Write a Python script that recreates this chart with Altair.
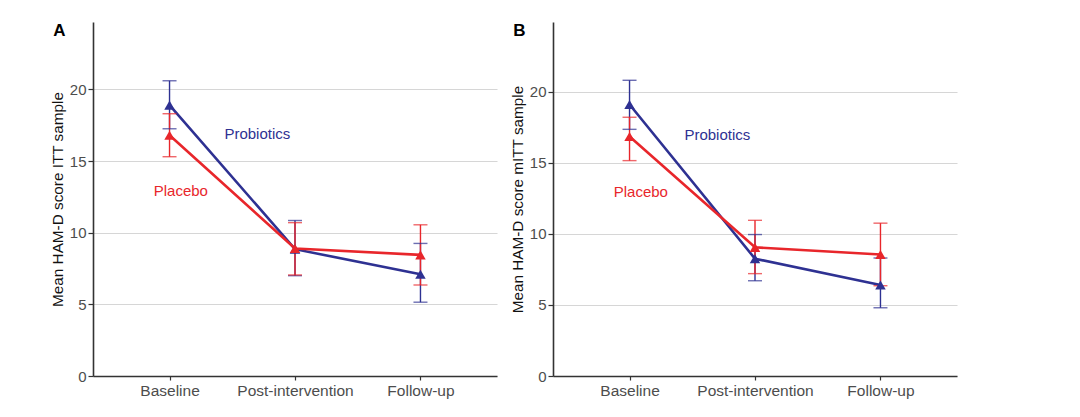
import altair as alt
import pandas as pd

categories = ["Baseline", "Post-intervention", "Follow-up"]
groups = ["Probiotics", "Placebo"]
colors = ["#2E3192", "#E8262B"]

# Panel A (ITT sample)
a_prob_mean = [18.9, 8.85, 7.1]
a_prob_upper = [20.6, 10.85, 9.25]
a_prob_lower = [17.25, 7.0, 5.15]
a_plac_mean = [16.8, 8.9, 8.45]
a_plac_upper = [18.3, 10.7, 10.55]
a_plac_lower = [15.3, 7.05, 6.35]

# Panel B (mITT sample)
b_prob_mean = [19.1, 8.25, 6.4]
b_prob_upper = [20.8, 9.95, 8.3]
b_prob_lower = [17.35, 6.7, 4.8]
b_plac_mean = [16.85, 9.05, 8.55]
b_plac_upper = [18.2, 10.95, 10.75]
b_plac_lower = [15.15, 7.2, 6.35]

# in-plot group labels (data coordinates)
label_x = [1.70, 1.09]
a_label_y = [16.9, 12.9]
b_label_y = [16.97, 12.95]

y_ticks = [0, 5, 10, 15, 20]
FONT = "Liberation Sans"


def make_df(prob, plac):
    rows = []
    for g, (m, hi, lo) in zip(groups, [prob, plac]):
        for i, c in enumerate(categories):
            rows.append({"x": i + 1, "cat": c, "group": g,
                         "mean": m[i], "hi": hi[i], "lo": lo[i]})
    return pd.DataFrame(rows)


label_expr = " : ".join(
    f"datum.value == {i + 1} ? '{c}'" for i, c in enumerate(categories[:-1])
) + f" : '{categories[-1]}'"


def panel(df, label_y, ymax, ytitle, letter):
    lab = pd.DataFrame({"group": groups, "x": label_x, "y": label_y})
    xs = alt.Scale(domain=[0.39, 3.61], nice=False, zero=False)
    ys = alt.Scale(domain=[0, ymax], nice=False, zero=True)
    col = alt.Color("group:N", scale=alt.Scale(domain=groups, range=colors), legend=None)
    xenc = alt.X("x:Q", scale=xs,
                 axis=alt.Axis(values=[1, 2, 3], labelExpr=label_expr, title=None,
                               grid=False, tickSize=4, labelPadding=3,
                               labelFontSize=15.5))
    yenc = alt.Y("mean:Q", scale=ys,
                 axis=alt.Axis(values=y_ticks, title=ytitle, grid=True, tickSize=5,
                               labelPadding=2, titlePadding=4))
    base = alt.Chart(df)
    line = base.mark_line(strokeWidth=2.6).encode(x=xenc, y=yenc, color=col, detail="group:N")
    rule = base.mark_rule(strokeWidth=1.4).encode(x="x:Q", y="lo:Q", y2="hi:Q", color=col)
    cap_hi = base.mark_tick(orient="horizontal", size=14, thickness=1.4).encode(
        x="x:Q", y="hi:Q", color=col)
    cap_lo = base.mark_tick(orient="horizontal", size=14, thickness=1.4).encode(
        x="x:Q", y="lo:Q", color=col)
    pts = base.mark_point(shape="triangle-up", filled=True, size=110, opacity=1).encode(
        x="x:Q", y="mean:Q", color=col)
    txt = alt.Chart(lab).mark_text(fontSize=15, font=FONT).encode(
        x="x:Q", y="y:Q", text="group:N", color=col)
    return alt.layer(line, rule, cap_hi, cap_lo, pts, txt).properties(
        width=404, height=354,
        title=alt.TitleParams(letter, anchor="start", dx=3, offset=-18,
                              fontSize=17, fontWeight="bold", font=FONT, color="black"))


pa = panel(make_df((a_prob_mean, a_prob_upper, a_prob_lower),
                   (a_plac_mean, a_plac_upper, a_plac_lower)),
           a_label_y, 24.7, "Mean HAM-D score ITT sample", "A")
pb = panel(make_df((b_prob_mean, b_prob_upper, b_prob_lower),
                   (b_plac_mean, b_plac_upper, b_plac_lower)),
           b_label_y, 24.9, "Mean HAM-D score mITT sample", "B")

chart = alt.hconcat(pa, pb, spacing=13).properties(
    padding={"left": 50, "top": 22, "right": 5, "bottom": 5},
    background="white",
).configure_view(stroke=None).configure_axis(
    labelFont=FONT, titleFont=FONT, labelColor="#4D4D4D", labelFontSize=15,
    titleFontSize=15.3, titleColor="#111111", titleFontWeight="normal",
    domainColor="#333333", domainWidth=1.6, tickColor="#333333", tickWidth=1.2,
    gridColor="#D6D6D6", gridWidth=1.2,
)

chart.save("out.html", embed_options={"renderer": "svg", "actions": False})
